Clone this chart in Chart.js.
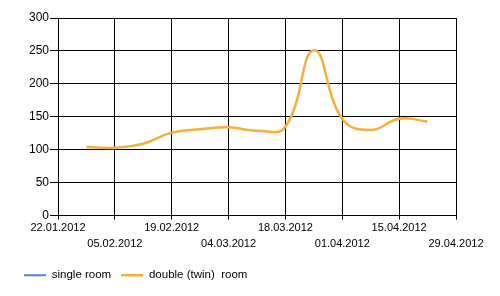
<!DOCTYPE html>
<html>
<head>
<meta charset="utf-8">
<script src="https://cdn.jsdelivr.net/npm/chart.js@4.4.1/dist/chart.umd.min.js"></script>
<style>
  html, body { margin: 0; padding: 0; background: #fff; }
  #wrap { width: 500px; height: 296px; }
</style>
</head>
<body>
<div id="wrap"><canvas id="chart"></canvas></div>
<script>
// weekly dates on the x axis
const weeks = [
  '22.01.2012', '29.01.2012', '05.02.2012', '12.02.2012', '19.02.2012',
  '26.02.2012', '04.03.2012', '11.03.2012', '18.03.2012', '25.03.2012',
  '01.04.2012', '08.04.2012', '15.04.2012', '22.04.2012', '29.04.2012'
];
const seriesNames = ['single room', 'double (twin)  room'];
const singleRoom = [];
const doubleRoom = [null, 104, 103, 109, 126, 131, 134, 129, 135, 251, 147, 130, 147, 143, null];
const yMin = 0, yMax = 300, yStep = 50;

const ctx = document.getElementById('chart').getContext('2d');
new Chart(ctx, {
  type: 'line',
  data: {
    labels: weeks,
    datasets: [{
      label: seriesNames[0],
      data: singleRoom,
      borderColor: '#4a86e8',
      backgroundColor: '#4a86e8',
      borderWidth: 2,
      pointRadius: 0
    }, {
      label: seriesNames[1],
      data: doubleRoom,
      borderColor: '#f7ae3c',
      backgroundColor: '#f7ae3c',
      borderWidth: 2.5,
      pointRadius: 0,
      tension: 0.45
    }]
  },
  options: {
    responsive: true,
    maintainAspectRatio: false,
    animation: false,
    layout: {
      padding: { left: 14, right: 44, top: 18, bottom: 5 }
    },
    plugins: {
      tooltip: { enabled: false },
      legend: {
        position: 'bottom',
        align: 'start',
        labels: {
          usePointStyle: true,
          pointStyle: 'line',
          pointStyleWidth: 22,
          color: '#000',
          padding: 10,
          font: { family: 'Liberation Sans', size: 11.5 }
        }
      }
    },
    scales: {
      x: {
        offset: false,
        afterFit: s => { s.height += 8; },
        grid: { color: '#000', lineWidth: 1, tickLength: 4 },
        border: { color: '#000' },
        ticks: {
          autoSkip: false,
          maxRotation: 0,
          padding: 0,
          color: '#000',
          font: { family: 'Liberation Sans', size: 11, lineHeight: 1.45 },
          callback: function (val, i) {
            if (i % 2 === 1) return null;
            const lbl = this.getLabelForValue(val);
            return i % 4 === 0 ? [lbl, ''] : ['', lbl];
          }
        }
      },
      y: {
        min: yMin,
        max: yMax,
        afterFit: s => { s.width = 44; },
        grid: { color: '#000', lineWidth: 1, tickLength: 8 },
        border: { color: '#000' },
        ticks: {
          stepSize: yStep,
          padding: 1,
          color: '#000',
          font: { family: 'Liberation Sans', size: 12 }
        }
      }
    }
  }
});
</script>
</body>
</html>
